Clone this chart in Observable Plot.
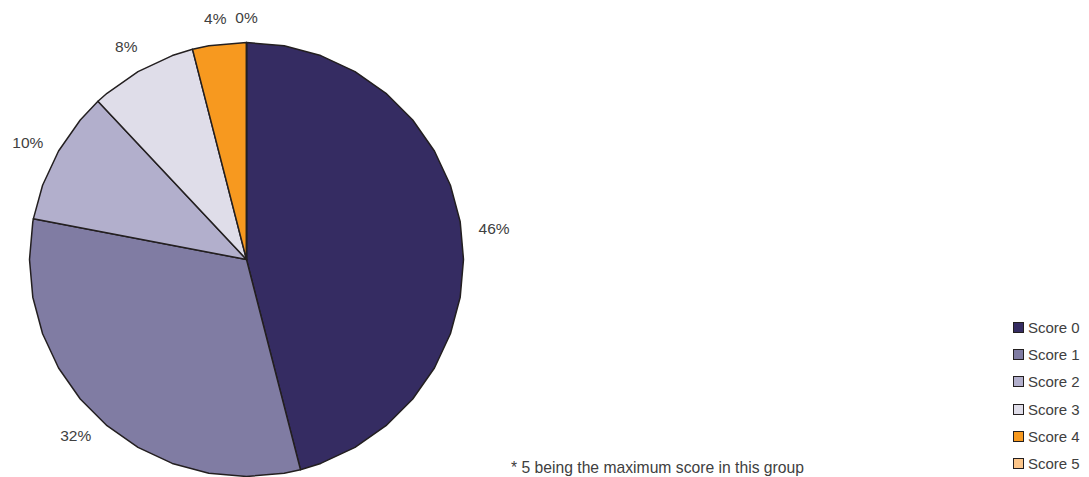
<!DOCTYPE html>
<html>
<head>
<meta charset="utf-8">
<script src="https://cdn.jsdelivr.net/npm/d3@7"></script>
<script src="https://cdn.jsdelivr.net/npm/@observablehq/plot@0.6"></script>
<style>
  html, body { margin: 0; padding: 0; background: #fff; }
  #wrap { position: relative; width: 1089px; height: 477px; overflow: hidden; font-family: "Liberation Sans", Arial, sans-serif; color: #404040; }
  #chart { position: absolute; left: 0; top: 0; }
  #legend { position: absolute; left: 1013px; top: 314px; font-size: 15px; }
  .item { display: flex; align-items: center; height: 27.2px; }
  .sw { width: 9px; height: 9px; border: 1.5px solid #231f20; margin-right: 4px; }
  #note { position: absolute; left: 511px; top: 459px; font-size: 15.7px; white-space: nowrap; }
</style>
</head>
<body>
<div id="wrap">
  <div id="chart"></div>
  <div id="legend"></div>
  <div id="note">* 5 being the maximum score in this group</div>
</div>
<script>
const categories = ["Score 0", "Score 1", "Score 2", "Score 3", "Score 4", "Score 5"];
const values = [46, 32, 10, 8, 4, 0];
const valueLabels = ["46%", "32%", "10%", "8%", "4%", "0%"];
const colors = ["#352c62", "#807ca3", "#b2afcc", "#dfdde9", "#f7991f", "#fdc68a"];

const arcs = d3.pie().sort(null).startAngle(0).endAngle(2 * Math.PI)(values);
const step = Math.PI / 18; // the original pie is drawn as a 36-sided polygon

const points = [];
arcs.forEach((a, i) => {
  const key = categories[i];
  const angles = [a.startAngle];
  for (let t = Math.ceil(a.startAngle / step + 1e-9) * step; t < a.endAngle - 1e-9; t += step) angles.push(t);
  angles.push(a.endAngle);
  points.push({key, x: 0, y: 0});
  angles.forEach(t => points.push({key, x: Math.sin(t), y: Math.cos(t)}));
});

const labelData = arcs.map((a, i) => {
  const m = (a.startAngle + a.endAngle) / 2;
  return {text: valueLabels[i], x: 1.15 * Math.sin(m), y: 1.115 * Math.cos(m)};
});

const chart = Plot.plot({
  width: 1089,
  height: 477,
  marginLeft: 29,
  marginRight: 626,
  marginTop: 42,
  marginBottom: 1,
  x: {domain: [-1, 1], axis: null},
  y: {domain: [-1, 1], axis: null},
  color: {domain: categories, range: colors},
  style: {overflow: "visible", fontFamily: "Liberation Sans, Arial, sans-serif"},
  marks: [
    Plot.line(points, {x: "x", y: "y", z: "key", fill: "key", stroke: "#231f20", strokeWidth: 1.5, strokeLinejoin: "round", curve: "linear-closed"}),
    Plot.text(labelData, {x: "x", y: "y", text: "text", fontSize: 15.5, fill: "#404040"})
  ]
});
document.getElementById("chart").appendChild(chart);

const legend = d3.select("#legend");
categories.forEach((c, i) => {
  const it = legend.append("div").attr("class", "item");
  it.append("div").attr("class", "sw").style("background", colors[i]);
  it.append("span").text(c);
});
</script>
</body>
</html>
